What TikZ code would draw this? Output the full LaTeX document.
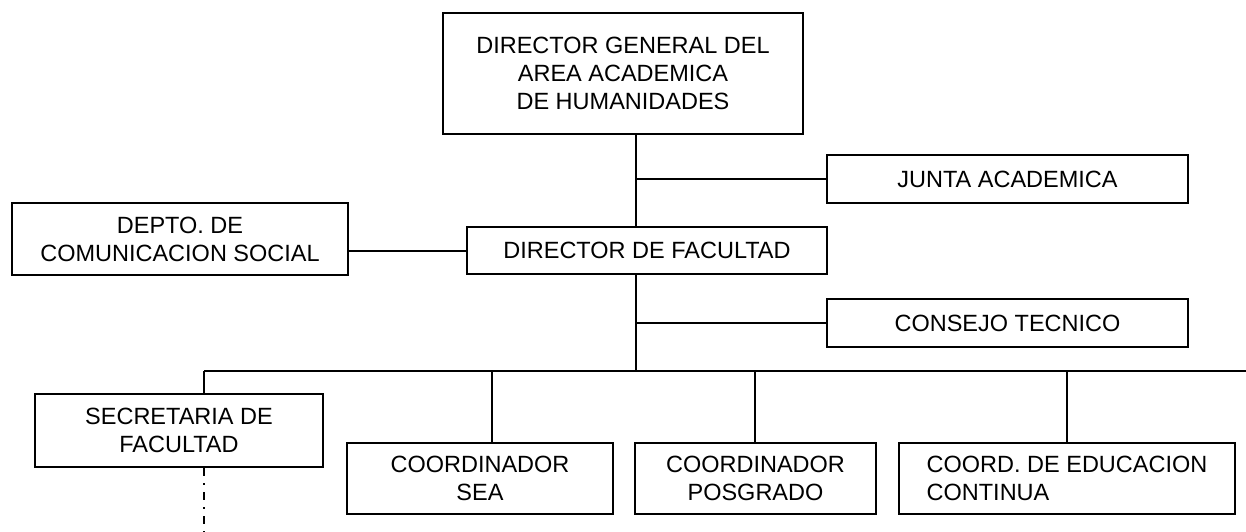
\documentclass[tikz,border=0pt]{standalone}
\usepackage{fontspec}
\setmainfont{Liberation Sans}
\usetikzlibrary{positioning}

\begin{document}
\begin{tikzpicture}[x=1pt,y=-1pt,line width=2pt,
    unit/.style={draw,rectangle,inner sep=0pt,align=center,
      font=\fontsize{23.5}{28}\selectfont},
    dashdot/.style={line width=1.6pt,dash pattern=on 8pt off 7pt on 2pt off 7pt}]
    \useasboundingbox (0,0) rectangle (1246,532);

    \node[unit,minimum width=360pt,minimum height=121pt] (dirgen) at (623,73.5)
      {DIRECTOR GENERAL DEL\\AREA ACADEMICA\\DE HUMANIDADES};
    \node[unit,minimum width=361pt,minimum height=48pt] (junta) at (1007.5,179)
      {JUNTA ACADEMICA};
    \node[unit,minimum width=336pt,minimum height=72pt] (depto) at (180,239)
      {DEPTO. DE\\COMUNICACION SOCIAL};
    \node[unit,minimum width=360pt,minimum height=47pt] (dirfac) at (647,250.5)
      {DIRECTOR DE FACULTAD};
    \node[unit,minimum width=361pt,minimum height=48pt] (consejo) at (1007.5,323)
      {CONSEJO TECNICO};
    \node[unit,minimum width=288pt,minimum height=73pt] (secre) at (179,430.5)
      {SECRETARIA DE\\FACULTAD};
    \node[unit,minimum width=266pt,minimum height=71pt] (sea) at (480,478.5)
      {COORDINADOR\\SEA};
    \node[unit,minimum width=241pt,minimum height=71pt] (posgrado) at (755.5,478.5)
      {COORDINADOR\\POSGRADO};
    \node[unit,align=left,minimum width=336pt,minimum height=71pt] (educ) at (1067,478.5)
      {COORD. DE EDUCACION\\CONTINUA};

    \coordinate (spine) at (636,371);
    \coordinate (busL) at (204,371);
    \coordinate (busR) at (1246,371);
    \coordinate (tapsea) at (492,371);
    \coordinate (tapposg) at (755,371);
    \coordinate (tapeduc) at (1067,371);
    \coordinate (secend) at (204,532);

    \draw (dirgen.south -| spine) -- (dirfac.north -| spine);
    \draw (spine |- junta.west) -- (junta.west);
    \draw (depto.east |- 0,251) -- (dirfac.west |- 0,251);
    \draw (dirfac.south -| spine) -- (spine);
    \draw (spine |- consejo.west) -- (consejo.west);
    \draw (busL) -- (busR);
    \draw (busL) -- (busL |- secre.north);
    \draw (tapsea) -- (tapsea |- sea.north);
    \draw (tapposg) -- (tapposg |- posgrado.north);
    \draw (tapeduc) -- (tapeduc |- educ.north);
    \draw[dashdot] (busL |- secre.south) -- (secend);
  \end{tikzpicture}
\end{document}
